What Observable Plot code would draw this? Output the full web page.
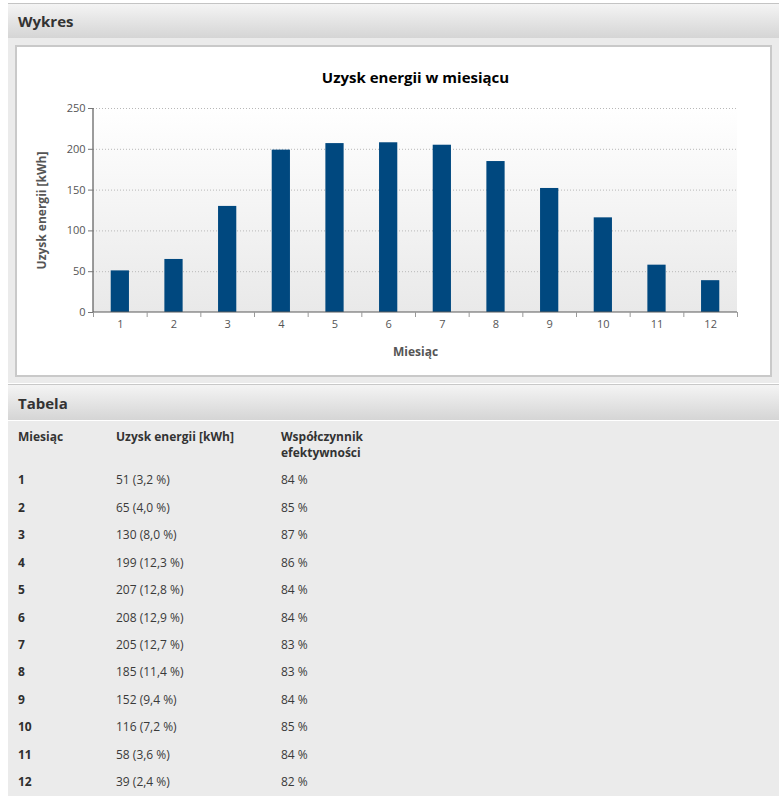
<!DOCTYPE html>
<html>
<head>
<meta charset="utf-8">
<script src="https://cdn.jsdelivr.net/npm/d3@7"></script>
<script src="https://cdn.jsdelivr.net/npm/@observablehq/plot@0.6"></script>
<style>
  html, body { margin: 0; padding: 0; background: #fff; font-family: "Open Sans", "Noto Sans", sans-serif; }
  .topline { position: absolute; left: 8px; top: 3px; width: 771px; height: 1px; background: #c4c4c4; }
  .hdr { position: absolute; left: 8px; width: 771px; height: 34px;
         background: linear-gradient(#f4f4f4, #d5d5d5); color: #333; font-weight: bold; font-size: 15px;
         box-sizing: border-box; padding-left: 10px; line-height: 34px; }
  .region { position: absolute; left: 8px; width: 771px; background: #ebebeb; }
  .panel { position: absolute; left: 15px; top: 45px; width: 757px; height: 332px; box-sizing: border-box;
           border: 2px solid #c9c9c9; background: #fff; }
  #chart { position: absolute; left: 0; top: 0; }
  .row { position: absolute; left: 0; width: 771px; height: 27.45px; line-height: 27.45px; font-size: 12px; color: #3a3a3a; }
  .row span { position: absolute; top: 0; white-space: nowrap; }
  .c1 { left: 10px; font-weight: bold; color: #2e2e2e; }
  .c2 { left: 108px; }
  .c3 { left: 273px; }
  .head { position: absolute; left: 0; top: 8px; width: 771px; font-size: 12px; font-weight: bold; color: #333; line-height: 16px; }
  .head span { position: absolute; top: 0; }
</style>
</head>
<body>
<div class="topline"></div>
<div class="hdr" style="top:4px;">Wykres</div>
<div class="region" style="top:38px; height:345px;"></div>
<div class="panel"><div id="chart"></div></div>
<div class="topline" style="top:384px; background:#c8c8c8;"></div>
<div class="hdr" style="top:385px; height:35px; line-height:36px;">Tabela</div>
<div class="region" id="table" style="top:421px; height:375px;"></div>

<script>
const months = [1, 2, 3, 4, 5, 6, 7, 8, 9, 10, 11, 12];
const energy = [51, 65, 130, 199, 207, 208, 205, 185, 152, 116, 58, 39];
const share = ["3,2", "4,0", "8,0", "12,3", "12,8", "12,9", "12,7", "11,4", "9,4", "7,2", "3,6", "2,4"];
const efficiency = [84, 85, 87, 86, 84, 84, 83, 83, 84, 85, 84, 82];
const yTicks = [0, 50, 100, 150, 200, 250];
const title = "Uzysk energii w miesiącu";
const yLabel = "Uzysk energii [kWh]";
const xLabel = "Miesiąc";
const colHeaders = ["Miesiąc", "Uzysk energii [kWh]", "Współczynnik<br>efektywności"];

const data = months.map((m, i) => ({month: m, value: energy[i]}));

const W = 753, H = 328, ML = 76, MR = 33, MT = 61, MB = 63;
const step = (W - ML - MR) / months.length;

const background = (index, scales, values, dims) => {
  const g = d3.create("svg:g");
  const defs = g.append("defs");
  const lg = defs.append("linearGradient").attr("id", "plotbg").attr("x1", 0).attr("y1", 0).attr("x2", 0).attr("y2", 1);
  lg.append("stop").attr("offset", "0%").attr("stop-color", "#ffffff");
  lg.append("stop").attr("offset", "100%").attr("stop-color", "#e9e9e9");
  g.append("rect")
    .attr("x", dims.marginLeft).attr("y", dims.marginTop)
    .attr("width", dims.width - dims.marginLeft - dims.marginRight)
    .attr("height", dims.height - dims.marginTop - dims.marginBottom)
    .attr("fill", "url(#plotbg)");
  return g.node();
};

const axisLines = (index, scales, values, dims) => {
  const g = d3.create("svg:g").attr("stroke", "#5a5a5a").attr("stroke-width", 1.2);
  const x0 = dims.marginLeft, x1 = dims.width - dims.marginRight;
  const y0 = dims.marginTop, y1 = dims.height - dims.marginBottom;
  g.append("line").attr("x1", x0).attr("x2", x0).attr("y1", y0).attr("y2", y1);
  g.append("line").attr("x1", x0).attr("x2", x1).attr("y1", y1).attr("y2", y1);
  return g.node();
};

const chart = Plot.plot({
  width: W, height: H,
  marginLeft: ML, marginRight: MR, marginTop: MT, marginBottom: MB,
  style: {fontFamily: "'Open Sans', sans-serif", fontSize: "11px", color: "#555", background: "transparent"},
  x: {type: "band", domain: months, paddingInner: 0.66, paddingOuter: 0.33, round: false, label: null},
  y: {domain: [0, 250], label: null},
  marks: [
    background,
    Plot.gridY(yTicks.filter(d => d > 0), {stroke: "#b8b8b8", strokeOpacity: 1, strokeDasharray: "1,2"}),
    Plot.barY(data, {x: "month", y: "value", fill: "#00487f"}),
    axisLines,
    Plot.axisY(yTicks, {tickSize: 5, tickPadding: 3, stroke: "#777", fill: "#555", fontSize: 11, label: null}),
    Plot.axisX({tickSize: 0, tickPadding: 8, fill: "#555", fontSize: 11, label: null}),
    Plot.axisX({text: null, tickSize: 5, dx: -step / 2, stroke: "#999", label: null}),
    Plot.axisX([months[months.length - 1]], {text: null, tickSize: 5, dx: step / 2, stroke: "#999", label: null}),
    Plot.text([title], {frameAnchor: "top", lineAnchor: "middle", dy: -30, fontSize: 15, fontWeight: "bold", fill: "#000"}),
    Plot.text([yLabel], {frameAnchor: "left", textAnchor: "middle", dx: -51, rotate: -90, fontSize: 12, fontWeight: "bold", fill: "#555"}),
    Plot.text([xLabel], {frameAnchor: "bottom", lineAnchor: "middle", dy: 40, fontSize: 12, fontWeight: "bold", fill: "#555"})
  ]
});
document.getElementById("chart").appendChild(chart);

// Table
const table = document.getElementById("table");
const head = document.createElement("div");
head.className = "head";
head.innerHTML = `<span style="left:10px">${colHeaders[0]}</span><span style="left:108px">${colHeaders[1]}</span><span style="left:273px">${colHeaders[2]}</span>`;
table.appendChild(head);
months.forEach((m, i) => {
  const r = document.createElement("div");
  r.className = "row";
  r.style.top = (45.3 + i * 27.45) + "px";
  r.innerHTML = `<span class="c1">${m}</span><span class="c2">${energy[i]} (${share[i]} %)</span><span class="c3">${efficiency[i]} %</span>`;
  table.appendChild(r);
});
</script>
</body>
</html>
